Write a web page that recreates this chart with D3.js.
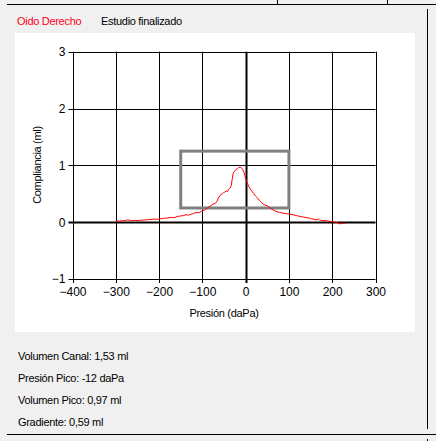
<!DOCTYPE html>
<html>
<head>
<meta charset="utf-8">
<script src="https://cdn.jsdelivr.net/npm/d3@7"></script>
<style>
  html, body { margin: 0; padding: 0; background: #f0f0f0; }
  svg { display: block; font-family: "Liberation Sans", Arial, sans-serif; }
</style>
</head>
<body>
<svg id="chart" width="436" height="441"></svg>
<script>
// pressure (daPa) vs compliance (ml)
var pressure = [-300, -292, -285, -278, -272, -266, -260, -255, -248, -240, -232, -225, -218, -210, -204, -198, -192, -185, -180, -172, -165, -158, -150, -144, -138, -132, -126, -120, -114, -108, -102, -96, -90, -85, -80, -75, -70, -66, -62, -58, -54, -51, -48, -45, -42, -39, -36, -33, -31, -29, -27, -25, -22, -19, -16, -13, -10, -7, -4, -2, 0, 2, 5, 8, 11, 15, 19, 23, 27, 31, 35, 40, 45, 50, 55, 60, 65, 70, 78, 86, 94, 102, 110, 118, 126, 134, 142, 150, 158, 165, 168, 171, 175, 182, 190, 198, 206, 212, 218, 224, 230];
var compliance = [0.02, 0.02, 0.025, 0.03, 0.04, 0.03, 0.025, 0.03, 0.03, 0.035, 0.04, 0.045, 0.05, 0.055, 0.05, 0.06, 0.065, 0.07, 0.075, 0.085, 0.08, 0.1, 0.11, 0.115, 0.13, 0.125, 0.14, 0.155, 0.17, 0.165, 0.19, 0.21, 0.24, 0.27, 0.29, 0.32, 0.33, 0.37, 0.44, 0.48, 0.5, 0.52, 0.53, 0.55, 0.54, 0.58, 0.6, 0.65, 0.76, 0.85, 0.89, 0.9, 0.93, 0.94, 0.96, 0.97, 0.96, 0.93, 0.88, 0.82, 0.77, 0.72, 0.67, 0.62, 0.58, 0.54, 0.5, 0.46, 0.43, 0.39, 0.36, 0.32, 0.3, 0.29, 0.26, 0.23, 0.21, 0.19, 0.17, 0.16, 0.15, 0.14, 0.13, 0.115, 0.1, 0.09, 0.08, 0.065, 0.05, 0.04, 0.06, 0.04, 0.03, 0.03, 0.02, 0.01, 0.0, -0.01, -0.03, -0.02, -0.02];

var xTicks = [-400, -300, -200, -100, 0, 100, 200, 300];
var yTicks = [-1, 0, 1, 2, 3];

// peak window drawn as grey box
var boxPressure = [-150, 100];
var boxCompliance = [0.25, 1.25];

var infoLines = ['Volumen Canal: 1,53 ml', 'Presión Pico: -12 daPa', 'Volumen Pico: 0,97 ml', 'Gradiente: 0,59 ml'];

var svg = d3.select('#chart');

// window frame lines
svg.append('line').attr('x1', 7).attr('x2', 436).attr('y1', 4.5).attr('y2', 4.5).attr('stroke', '#000');
svg.append('line').attr('x1', 277.5).attr('x2', 277.5).attr('y1', 0).attr('y2', 4).attr('stroke', '#000');
svg.append('line').attr('x1', 387.5).attr('x2', 387.5).attr('y1', 0).attr('y2', 4).attr('stroke', '#000');
svg.append('line').attr('x1', 427.5).attr('x2', 427.5).attr('y1', 9).attr('y2', 429).attr('stroke', '#000');
svg.append('line').attr('x1', 7).attr('x2', 436).attr('y1', 434.5).attr('y2', 434.5).attr('stroke', '#000');
svg.append('line').attr('x1', 427.5).attr('x2', 427.5).attr('y1', 439).attr('y2', 441).attr('stroke', '#000');

svg.append('text').attr('x', 17).attr('y', 25).attr('fill', '#ff0022').attr('font-size', 11).attr('letter-spacing', -0.3).text('Oido Derecho');
svg.append('text').attr('x', 101).attr('y', 25).attr('fill', '#000').attr('font-size', 11).attr('letter-spacing', -0.3).text('Estudio finalizado');

// white chart panel
svg.append('rect').attr('x', 15).attr('y', 33).attr('width', 400).attr('height', 299).attr('fill', '#fff');

var x = d3.scaleLinear().domain([-400, 300]).range([72.5, 375.5]);
var y = d3.scaleLinear().domain([-1, 3]).range([279, 51.7]);

var grid = svg.append('g');
grid.selectAll('.vg').data(xTicks).enter().append('line')
  .attr('x1', function (d) { return Math.round(x(d)) + 0.5; })
  .attr('x2', function (d) { return Math.round(x(d)) + 0.5; })
  .attr('y1', y(3)).attr('y2', y(-1) + 4)
  .attr('stroke', '#000')
  .attr('stroke-width', function (d) { return d === 0 ? 2 : 1; });
grid.selectAll('.hg').data(yTicks).enter().append('line')
  .attr('x1', x(-400) - 4).attr('x2', x(300))
  .attr('y1', function (d) { return Math.round(y(d)) + 0.5; })
  .attr('y2', function (d) { return Math.round(y(d)) + 0.5; })
  .attr('stroke', '#000')
  .attr('stroke-width', function (d) { return d === 0 ? 2 : 1; });

var xAxis = svg.append('g').attr('transform', 'translate(0,' + (y(-1) + 4) + ')')
  .call(d3.axisBottom(x).tickValues(xTicks).tickSize(0).tickPadding(4));
var yAxis = svg.append('g').attr('transform', 'translate(' + (x(-400) - 5) + ',0)')
  .call(d3.axisLeft(y).tickValues(yTicks).tickSize(0).tickPadding(2).tickFormat(d3.format('d')));
[xAxis, yAxis].forEach(function (a) {
  a.select('.domain').remove();
  a.selectAll('text').attr('font-size', 12).attr('fill', '#000').attr('font-family', '"Liberation Sans", Arial, sans-serif');
});

svg.append('text').attr('x', 224).attr('y', 317).attr('text-anchor', 'middle').attr('font-size', 11).attr('letter-spacing', -0.3).text('Presión (daPa)');
svg.append('text').attr('transform', 'translate(41,165) rotate(-90)').attr('text-anchor', 'middle').attr('font-size', 11).attr('letter-spacing', -0.3).text('Compliancia (ml)');

// peak window
svg.append('rect')
  .attr('x', x(boxPressure[0])).attr('y', y(boxCompliance[1]))
  .attr('width', x(boxPressure[1]) - x(boxPressure[0]))
  .attr('height', y(boxCompliance[0]) - y(boxCompliance[1]))
  .attr('fill', 'none').attr('stroke', '#808080').attr('stroke-width', 3);

var line = d3.line()
  .x(function (d, i) { return x(pressure[i]); })
  .y(function (d) { return y(d); });
svg.append('path').datum(compliance)
  .attr('d', line)
  .attr('fill', 'none').attr('stroke', '#ff0000').attr('stroke-width', 1);

svg.selectAll('.info').data(infoLines).enter().append('text')
  .attr('x', 18)
  .attr('y', function (d, i) { return 360 + i * 22; })
  .attr('font-size', 11)
  .attr('letter-spacing', -0.3)
  .text(function (d) { return d; });
</script>
</body>
</html>
